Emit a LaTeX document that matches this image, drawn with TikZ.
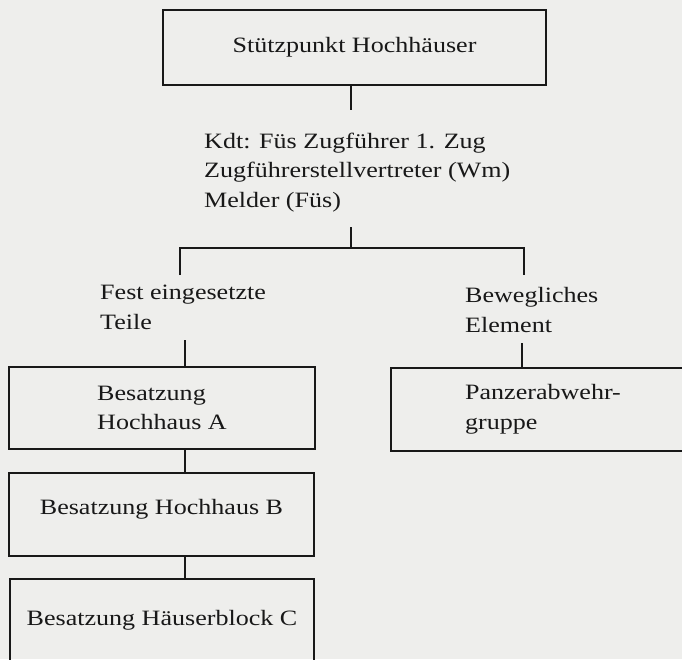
\documentclass[tikz,border=0pt]{standalone}
\usepackage{fontspec}
\setmainfont{Liberation Serif}[FakeStretch=1.19]
\usepackage{tikz}
\definecolor{paper}{RGB}{238,238,236}
\definecolor{ink}{RGB}{24,24,24}
\tikzset{bx/.append style={draw=ink, line width=1.5pt, rectangle, inner sep=0pt, align=left}}
\tikzset{tx/.append style={inner sep=0pt, align=left, anchor=base west}}
\tikzset{ln/.append style={draw=ink, line width=1.5pt}}
\tikzset{mid/.append style={text height=9pt, text depth=9pt}}

\begin{document}
\begin{tikzpicture}[x=1pt,y=-1pt,font=\fontsize{21.9}{29.5}\selectfont,text=ink]
                \fill[paper] (0,0) rectangle (682,659);
                \useasboundingbox (0,0) rectangle (682,659);
                % boxes
                \node[bx,minimum width=383,minimum height=75] (stp) at (354.5,47.5) {Stützpunkt Hochhäuser};
                \node[bx,minimum width=306,minimum height=82] (hha) at (162,408) {Besatzung\\Hochhaus A};
                \node[bx,mid,minimum width=305,minimum height=83] (hhb) at (161.5,514.5) {Besatzung Hochhaus B};
                \node[bx,mid,minimum width=304,minimum height=92] (hbc) at (162,625) {Besatzung Häuserblock C};
                \node[bx,minimum width=304,minimum height=83] (pzg) at (543,409.5) {Panzerabwehr-\\gruppe};
                % texts (base = last line)
                \node[tx] (kdt) at (204,207) {Kdt: Füs Zugführer 1. Zug\\Zugführerstellvertreter (Wm)\\Melder (Füs)};
                \node[tx] (fest) at (100,329) {Fest eingesetzte\\Teile};
                \node[tx] (bew) at (465,332) {Bewegliches\\Element};
                % ends of the lines
                \coordinate (k1) at (351,110);
                \coordinate (fk) at (351,227);
                \coordinate (fl) at (180,275);
                \coordinate (fr) at (524,275);
                \coordinate (fa) at (185,340);
                \coordinate (ba) at (522,343);
                % lines
                \path[ln] (stp.south -| k1) -- (k1);
                \path[ln] (fk) -- ++(0,21);
                \path[ln] (fl) -- ++(0,-27) -| (fr);
                \path[ln] (fa) -- (fa |- hha.north);
                \path[ln] (ba) -- (ba |- pzg.north);
                \path[ln] (hha.south -| fa) -- (hhb.north -| fa);
                \path[ln] (hhb.south -| fa) -- (hbc.north -| fa);
            \end{tikzpicture}
\end{document}
